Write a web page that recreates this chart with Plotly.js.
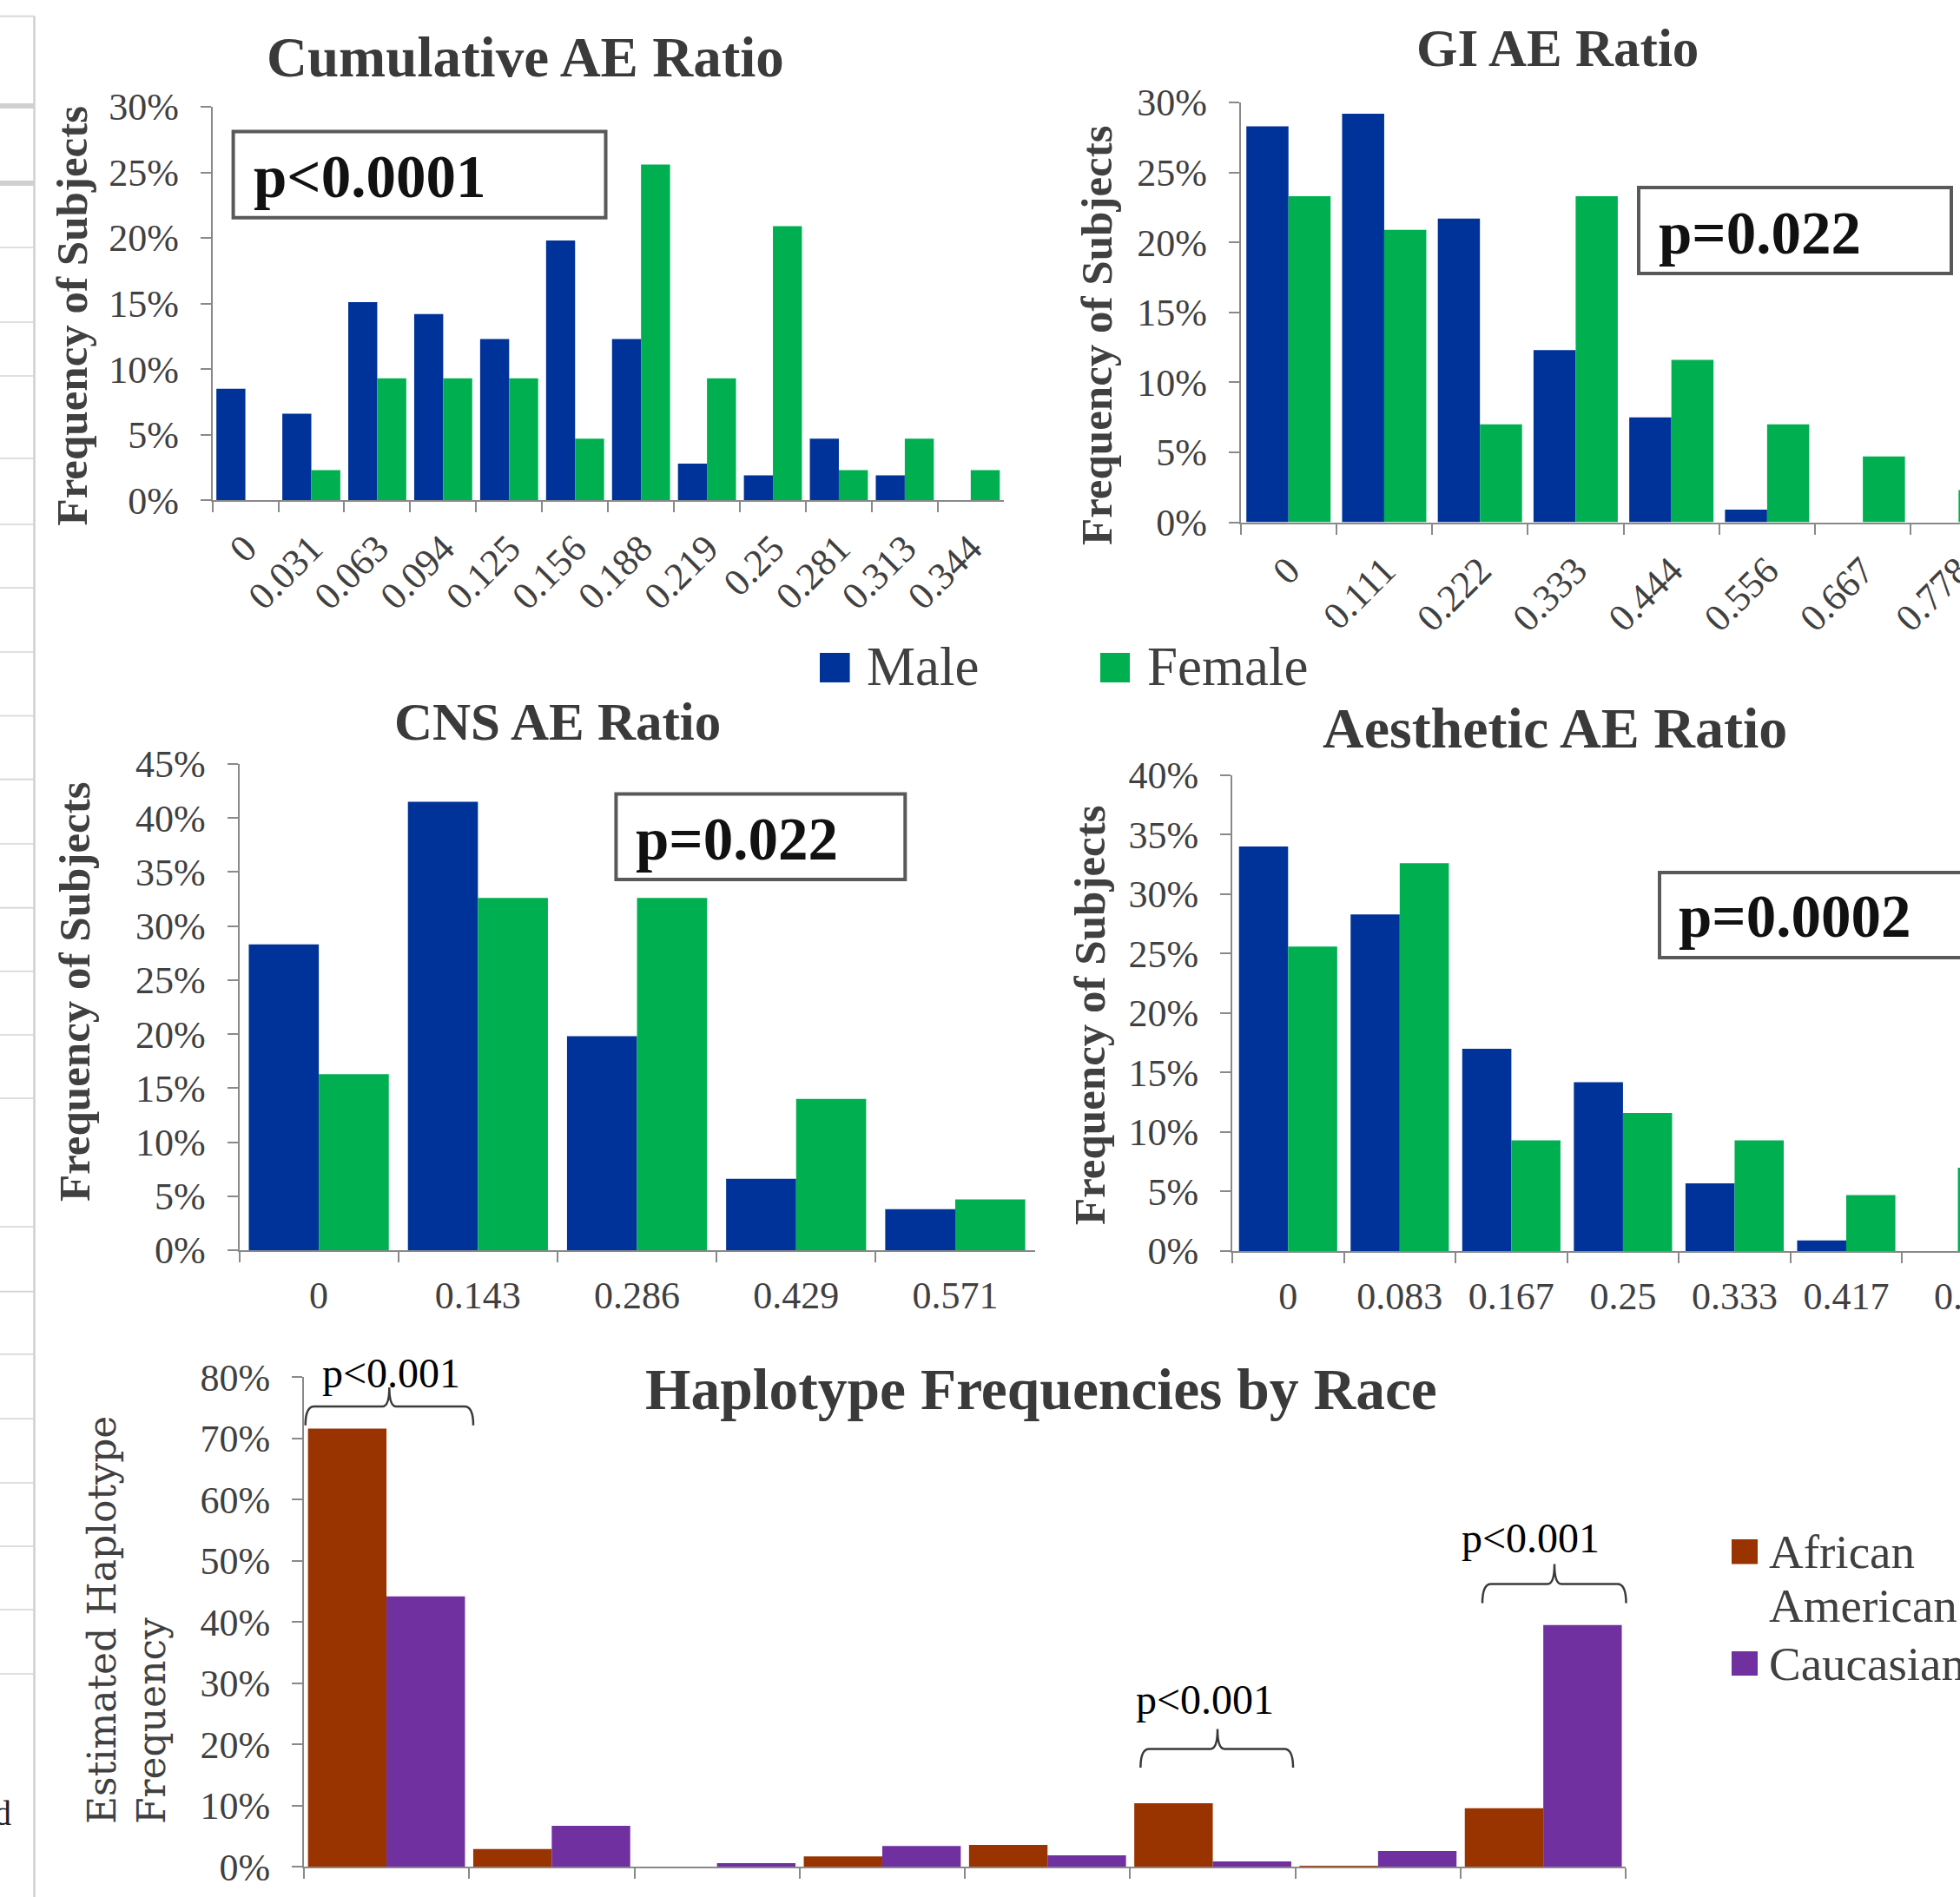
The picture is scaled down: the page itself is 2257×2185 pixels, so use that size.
<!DOCTYPE html>
<html>
<head>
<meta charset="utf-8">
<script src="https://cdn.plot.ly/plotly-3.0.1.min.js"></script>
<style>
html,body{margin:0;padding:0;background:#ffffff;}
#chart{width:2257px;height:2185px;}
</style>
</head>
<body>
<div id="chart"></div>
<script>
// ---------------- DATA ----------------
const sexNames = ["Male", "Female"];
const raceNames = ["African American", "Caucasian"];

const cumCategories = ["0","0.031","0.063","0.094","0.125","0.156","0.188","0.219","0.25","0.281","0.313","0.344"];
const cumMale   = [8.5, 6.6, 15.1, 14.2, 12.3, 19.8, 12.3, 2.8, 1.9, 4.7, 1.9, 0];
const cumFemale = [0, 2.3, 9.3, 9.3, 9.3, 4.7, 25.6, 9.3, 20.9, 2.3, 4.7, 2.3];

const giCategories = ["0","0.111","0.222","0.333","0.444","0.556","0.667","0.778"];
const giMale   = [28.3, 29.2, 21.7, 12.3, 7.5, 0.9, 0, 0];
const giFemale = [23.3, 20.9, 7.0, 23.3, 11.6, 7.0, 4.7, 2.3];

const cnsCategories = ["0","0.143","0.286","0.429","0.571"];
const cnsMale   = [28.3, 41.5, 19.8, 6.6, 3.8];
const cnsFemale = [16.3, 32.6, 32.6, 14.0, 4.7];

const aesCategories = ["0","0.083","0.167","0.25","0.333","0.417","0.5"];
const aesMale   = [34.0, 28.3, 17.0, 14.2, 5.7, 0.9, 0];
const aesFemale = [25.6, 32.6, 9.3, 11.6, 9.3, 4.7, 7.0];

const haploCategories = ["H1","H2","H3","H4","H5","H6","H7","H8"];
const haploAfricanAmerican = [71.6, 2.9, 0, 1.7, 3.6, 10.4, 0.2, 9.6];
const haploCaucasian       = [44.2, 6.7, 0.6, 3.4, 1.9, 0.9, 2.6, 39.5];

const chartTitles = ["Cumulative AE Ratio", "GI AE Ratio", "CNS AE Ratio", "Aesthetic AE Ratio", "Haplotype Frequencies by Race"];
const yTitle = "Frequency of Subjects";
const haploYTitle = "Estimated Haplotype<br>Frequency";
const pTexts = ["p<0.0001", "p=0.022", "p=0.022", "p=0.0002"];
const haploPTexts = ["p<0.001", "p<0.001", "p<0.001"];

// ---------------- STYLE / LAYOUT ----------------
const W = 2257, H = 2185;
const fx = p => p / W;
const fy = p => 1 - p / H;
const SERIF = "Liberation Serif, Times New Roman, serif";
const MALE = "#003399", FEMALE = "#00B050", AA = "#993300", CAU = "#7030A0";
const AXC = "#898989", TXT = "#404040";

function xAxis(domPx, opts) {
  return Object.assign({
    type: "category", domain: [fx(domPx[0]), fx(domPx[1])],
    showline: true, linecolor: AXC, linewidth: 2,
    ticks: "outside", tickson: "boundaries", ticklen: 12, tickwidth: 2, tickcolor: AXC,
    showgrid: false, zeroline: false, automargin: false, fixedrange: true,
    tickfont: {family: SERIF, size: 44, color: TXT}
  }, opts);
}
function yAxis(domPx, maxV, dt, opts) {
  return Object.assign({
    domain: [fy(domPx[0]), fy(domPx[1])], range: [0, maxV], dtick: dt, tick0: 0,
    ticksuffix: "%", showline: true, linecolor: AXC, linewidth: 2,
    ticks: "outside", ticklen: 12, tickwidth: 2, tickcolor: AXC,
    showgrid: false, zeroline: false, automargin: false, fixedrange: true,
    ticklabelstandoff: 16,
    tickfont: {family: SERIF, size: 44, color: TXT}
  }, opts);
}

const traces = [
  {type: "bar", name: sexNames[0], x: cumCategories, y: cumMale, xaxis: "x", yaxis: "y", marker: {color: MALE}, showlegend: false},
  {type: "bar", name: sexNames[1], x: cumCategories, y: cumFemale, xaxis: "x", yaxis: "y", marker: {color: FEMALE}, showlegend: false},
  {type: "bar", name: sexNames[0], x: giCategories, y: giMale, xaxis: "x2", yaxis: "y2", marker: {color: MALE}, showlegend: false},
  {type: "bar", name: sexNames[1], x: giCategories, y: giFemale, xaxis: "x2", yaxis: "y2", marker: {color: FEMALE}, showlegend: false},
  {type: "bar", name: sexNames[0], x: cnsCategories, y: cnsMale, xaxis: "x3", yaxis: "y3", marker: {color: MALE}, showlegend: false},
  {type: "bar", name: sexNames[1], x: cnsCategories, y: cnsFemale, xaxis: "x3", yaxis: "y3", marker: {color: FEMALE}, showlegend: false},
  {type: "bar", name: sexNames[0], x: aesCategories, y: aesMale, xaxis: "x4", yaxis: "y4", marker: {color: MALE}, showlegend: false},
  {type: "bar", name: sexNames[1], x: aesCategories, y: aesFemale, xaxis: "x4", yaxis: "y4", marker: {color: FEMALE}, showlegend: false},
  {type: "bar", name: raceNames[0], x: haploCategories, y: haploAfricanAmerican, xaxis: "x5", yaxis: "y5", marker: {color: AA}, width: 0.475, offset: -0.475, showlegend: false},
  {type: "bar", name: raceNames[1], x: haploCategories, y: haploCaucasian, xaxis: "x5", yaxis: "y5", marker: {color: CAU}, width: 0.475, offset: 0, showlegend: false}
];

const shapes = [];
function rectPx(x0, y0, x1, y1, extra) {
  shapes.push(Object.assign({type: "rect", xref: "paper", yref: "paper",
    x0: fx(x0), x1: fx(x1), y0: fy(y0), y1: fy(y1)}, extra));
}
// p-value boxes
const pBoxStyle = {line: {color: "#595959", width: 4}, fillcolor: "rgba(0,0,0,0)", layer: "above"};
rectPx(268.6, 151.5, 697.5, 250.7, pBoxStyle);
rectPx(1887, 216, 2247, 315, pBoxStyle);
rectPx(709.4, 914.4, 1042.3, 1012.9, pBoxStyle);
rectPx(1911, 1005, 2275, 1103, pBoxStyle);
// white overlap of pasted legend panel
rectPx(870, 714, 1534, 815, {line: {width: 0}, fillcolor: "#ffffff", layer: "above"});
// legend swatches
rectPx(944, 752, 978.6, 786, {line: {width: 0}, fillcolor: MALE, layer: "above"});
rectPx(1267, 752, 1301, 786, {line: {width: 0}, fillcolor: FEMALE, layer: "above"});
rectPx(1994, 1773, 2024, 1801.5, {line: {width: 0}, fillcolor: AA, layer: "above"});
rectPx(1994, 1902, 2024, 1930, {line: {width: 0}, fillcolor: CAU, layer: "above"});

// curly braces
function brace(x0, x1, xm, yb, ybar, ytip) {
  const P = (x, y) => fx(x).toFixed(5) + "," + fy(y).toFixed(5);
  const r = 10, s = 8;
  const d = "M" + P(x0, yb) + " Q" + P(x0, ybar) + " " + P(x0 + r, ybar) +
    " L" + P(xm - s, ybar) + " Q" + P(xm, ybar) + " " + P(xm, ytip) +
    " Q" + P(xm, ybar) + " " + P(xm + s, ybar) +
    " L" + P(x1 - r, ybar) + " Q" + P(x1, ybar) + " " + P(x1, yb);
  shapes.push({type: "path", xref: "paper", yref: "paper", path: d,
    line: {color: "#3a3a3a", width: 2.5}, layer: "above"});
}
brace(351.7, 545, 448.3, 1641.7, 1620, 1598);
brace(1313.4, 1489, 1402, 2036, 2014.5, 1991.6);
brace(1707, 1872.5, 1790, 1846.6, 1824.5, 1801.5);

// spreadsheet strip at left edge
shapes.push({type: "line", xref: "paper", yref: "paper", x0: fx(39.5), x1: fx(39.5), y0: fy(18.6), y1: fy(2185),
  line: {color: "#d0d0d0", width: 2.5}, layer: "above"});
const stripRows = [18.6, 285, 371, 433, 528, 604, 677, 751, 824.5, 897.6, 972, 1045.6, 1118.7, 1192, 1265, 1413, 1487.6, 1559.7, 1634, 1708, 1781, 1854, 1928];
stripRows.forEach(y => shapes.push({type: "line", xref: "paper", yref: "paper", x0: 0, x1: fx(39.5), y0: fy(y), y1: fy(y),
  line: {color: "#d4d4d4", width: 1.6}, layer: "above"}));
[122, 211].forEach(y => shapes.push({type: "line", xref: "paper", yref: "paper", x0: 0, x1: fx(39.5), y0: fy(y), y1: fy(y),
  line: {color: "#d0d0d0", width: 6}, layer: "above"}));

// annotations
const annotations = [];
function ann(text, x, y, font, extra) {
  annotations.push(Object.assign({text: text, xref: "paper", yref: "paper", x: fx(x), y: fy(y),
    xanchor: "center", yanchor: "middle", showarrow: false, font: font}, extra));
}
const titleFont = s => ({family: SERIF, size: s, color: "#3a3a3a", weight: "bold"});
ann(chartTitles[0], 604.5, 65.5, titleFont(65));
ann(chartTitles[1], 1793, 55, titleFont(61));
ann(chartTitles[2], 642, 832, titleFont(61));
ann(chartTitles[3], 1790, 838, titleFont(66));
ann(chartTitles[4], 1199, 1600.5, titleFont(67.5));

const yTitleFont = {family: SERIF, size: 51, color: TXT, weight: "bold"};
ann(yTitle, 82.5, 364, yTitleFont, {textangle: -90});
ann(yTitle, 1263, 386, yTitleFont, {textangle: -90});
ann(yTitle, 86, 1142, yTitleFont, {textangle: -90});
ann(yTitle, 1255, 1169, yTitleFont, {textangle: -90});
ann(haploYTitle, 146, 1866, {family: "DejaVu Serif, serif", size: 44, color: TXT}, {textangle: -90, align: "left"});

const pFont = {family: SERIF, size: 69, color: "#111111", weight: "bold"};
ann(pTexts[0], 290, 204, pFont, {xanchor: "left"});
ann(pTexts[1], 1908, 269, pFont, {xanchor: "left"});
ann(pTexts[2], 730, 967, pFont, {xanchor: "left"});
ann(pTexts[3], 1931, 1056, pFont, {xanchor: "left"});

const hpFont = {family: SERIF, size: 48, color: "#000000"};
ann(haploPTexts[0], 450, 1581, hpFont);
ann(haploPTexts[1], 1387.5, 1957, hpFont);
ann(haploPTexts[2], 1762, 1771, hpFont);

const legFont = {family: SERIF, size: 63, color: TXT};
ann(sexNames[0], 996, 768, legFont, {xanchor: "left"});
ann(sexNames[1], 1319, 768, legFont, {xanchor: "left"});
const legFont2 = {family: SERIF, size: 55, color: TXT};
ann("African", 2035, 1787, legFont2, {xanchor: "left"});
ann("American", 2035, 1849, legFont2, {xanchor: "left"});
ann(raceNames[1], 2035, 1916, legFont2, {xanchor: "left"});

ann("d", 15, 2088, {family: SERIF, size: 40, color: "#222222"}, {xanchor: "right"});

const layout = {
  width: W, height: H,
  margin: {l: 0, r: 0, t: 0, b: 0, pad: 0},
  paper_bgcolor: "#ffffff", plot_bgcolor: "rgba(0,0,0,0)",
  barmode: "group", bargap: 0.12, bargroupgap: 0,
  showlegend: false,
  font: {family: SERIF, color: TXT},
  xaxis:  xAxis([244.6, 1155.8], {anchor: "y", tickangle: -45, ticklabelstandoff: 10}),
  yaxis:  yAxis([576.2, 123], 30, 5, {anchor: "x"}),
  xaxis2: xAxis([1428.6, 2257], {anchor: "y2", tickangle: -45, ticklabelstandoff: 10, range: [-0.5, 7.015]}),
  yaxis2: yAxis([601.5, 118], 30, 5, {anchor: "x2"}),
  xaxis3: xAxis([275.5, 1191.6], {anchor: "y3", tickangle: 0, ticklabelstandoff: 12}),
  yaxis3: yAxis([1440, 880], 45, 5, {anchor: "x3"}),
  xaxis4: xAxis([1419, 2257], {anchor: "y4", tickangle: 0, ticklabelstandoff: 12, range: [-0.5, 6.019]}),
  yaxis4: yAxis([1441, 892.9], 40, 5, {anchor: "x4"}),
  xaxis5: xAxis([349.9, 1872.3], {anchor: "y5", showticklabels: false}),
  yaxis5: yAxis([2150.3, 1586.4], 80, 10, {anchor: "x5"}),
  shapes: shapes,
  annotations: annotations
};

Plotly.newPlot("chart", traces, layout, {displayModeBar: false, staticPlot: true});
</script>
</body>
</html>
